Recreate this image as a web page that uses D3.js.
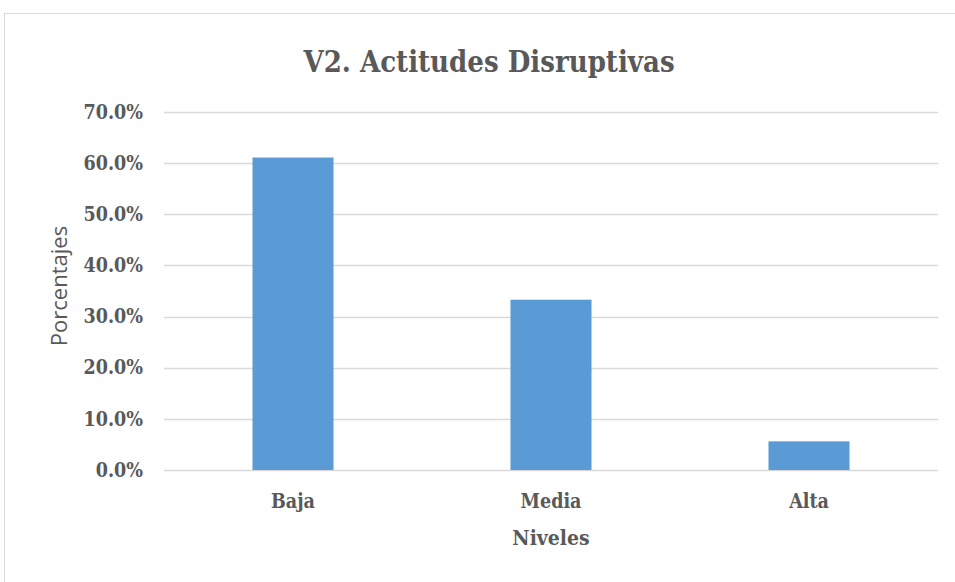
<!DOCTYPE html>
<html>
<head>
<meta charset="utf-8">
<script src="https://d3js.org/d3.v7.min.js"></script>
<style>
  body { margin: 0; background: #fff; }
  .serif { font-family: "DejaVu Serif Condensed", "DejaVu Serif", serif; font-weight: bold; fill: #595959; }
</style>
</head>
<body>
<div class="chart"></div>
<script>
// data
var niveles = ["Baja", "Media", "Alta"];
var porcentajes = [61.1, 33.3, 5.6];
var yTicks = [0, 10, 20, 30, 40, 50, 60, 70];

var svgWidth = 955;
var svgHeight = 582;

var margin = { top: 112, right: 17, bottom: 112, left: 164 };
var width = svgWidth - margin.left - margin.right;
var height = svgHeight - margin.top - margin.bottom;

var svg = d3.select(".chart")
  .append("svg")
  .attr("width", svgWidth)
  .attr("height", svgHeight);

// outer chart border
svg.append("rect")
  .attr("x", 4.5)
  .attr("y", 13.5)
  .attr("width", 960)
  .attr("height", 600)
  .attr("fill", "none")
  .attr("stroke", "#d9d9d9");

var chartGroup = svg.append("g")
  .attr("transform", `translate(${margin.left}, ${margin.top})`);

var xScale = d3.scaleBand()
  .domain(niveles)
  .range([0, width])
  .paddingInner(0.686)
  .paddingOuter(0.343);

var yScale = d3.scaleLinear()
  .domain([0, 70])
  .range([height, 0]);

// gridlines
chartGroup.selectAll(".grid")
  .data(yTicks)
  .enter()
  .append("line")
  .attr("x1", 0)
  .attr("x2", width)
  .attr("y1", d => Math.round(yScale(d)) + 0.5)
  .attr("y2", d => Math.round(yScale(d)) + 0.5)
  .attr("stroke", "#d9d9d9")
  .attr("stroke-width", 1.5);

// y axis tick labels
var leftAxis = d3.axisLeft(yScale)
  .tickValues(yTicks)
  .tickSize(0)
  .tickPadding(21)
  .tickFormat(d => d.toFixed(1) + "%");

var yAxis = chartGroup.append("g").call(leftAxis);
yAxis.select(".domain").remove();
yAxis.selectAll("text")
  .attr("class", "serif")
  .style("font-size", "19.5px");

// bars
chartGroup.selectAll("rect.bar")
  .data(porcentajes)
  .enter()
  .append("rect")
  .attr("class", "bar")
  .attr("x", (d, i) => xScale(niveles[i]))
  .attr("y", d => yScale(d))
  .attr("width", xScale.bandwidth())
  .attr("height", d => height - yScale(d))
  .attr("fill", "#5b9bd5");

// x axis
var bottomAxis = d3.axisBottom(xScale)
  .tickSize(0)
  .tickPadding(24);

var xAxis = chartGroup.append("g")
  .attr("transform", `translate(0, ${height})`)
  .call(bottomAxis);
xAxis.select(".domain").remove();
xAxis.selectAll("text")
  .attr("class", "serif")
  .style("font-size", "19.5px");

// title
svg.append("text")
  .attr("class", "serif")
  .attr("x", 489)
  .attr("y", 72)
  .attr("text-anchor", "middle")
  .style("font-size", "29px")
  .text("V2. Actitudes Disruptivas");

// axis titles
svg.append("text")
  .attr("class", "serif")
  .attr("x", 551)
  .attr("y", 545)
  .attr("text-anchor", "middle")
  .style("font-size", "21px")
  .text("Niveles");

svg.append("text")
  .attr("transform", "rotate(-90)")
  .attr("x", -286)
  .attr("y", 67)
  .attr("text-anchor", "middle")
  .style("font-family", "'Open Sans', 'Liberation Sans', sans-serif")
  .style("font-size", "22px")
  .style("fill", "#595959")
  .text("Porcentajes");
</script>
</body>
</html>
